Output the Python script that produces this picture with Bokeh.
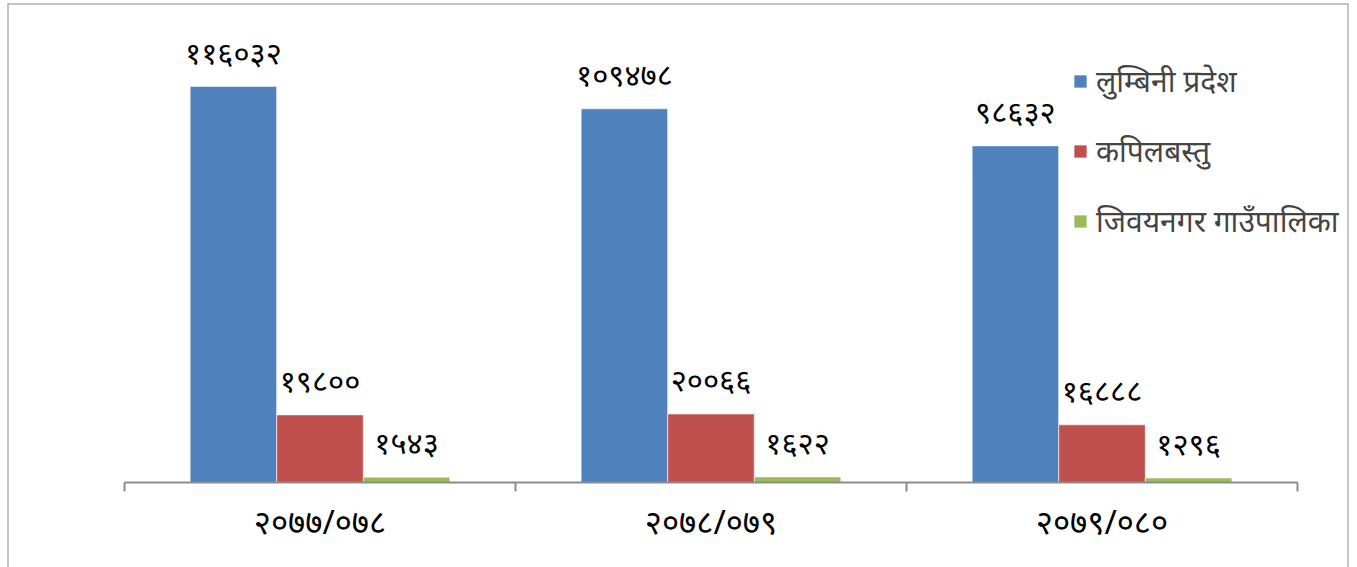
from bokeh.plotting import figure
from bokeh.models import ColumnDataSource, FixedTicker, Legend, LegendItem, Range1d, Span
from bokeh.core.properties import value
from bokeh.embed import file_html
from bokeh.resources import INLINE

categories = ["२०७७/०७८", "२०७८/०७९", "२०७९/०८०"]
series_names = ["लुम्बिनी प्रदेश", "कपिलबस्तु", "जिवयनगर गाउँपालिका"]
lumbini = [116032, 109478, 98632]
kapilbastu = [19800, 20066, 16888]
jivayanagar = [1543, 1622, 1296]
colors = ["#4F81BD", "#C0504D", "#9BBB59"]

DEV = str.maketrans("0123456789", "०१२३४५६७८९")
def dev(n):
    return str(n).translate(DEV)

FONT = "Noto Sans"
XMIN, XMAX = -0.29923, 3.13044
YMIN, YMAX = -24906, 140352
p = figure(width=1357, height=567, output_backend="svg", toolbar_location=None,
           x_range=Range1d(XMIN, XMAX), y_range=Range1d(YMIN, YMAX),
           min_border_left=7, min_border_right=9, min_border_top=3, min_border_bottom=0)
p.xgrid.visible = False
p.ygrid.visible = False
p.yaxis.visible = False
p.outline_line_color = None
p.background_fill_color = "white"

# chart border (top, left, right) at the plot-area edges
for loc, dim in [(YMAX, "width"), (XMIN, "height"), (XMAX, "height")]:
    p.add_layout(Span(location=loc, dimension=dim, line_color="#8c8c8c", line_width=2))

offsets = [-0.2215, 0.0, 0.2215]
bar_w = 0.221
items = []
for vals, name, col, off in zip([lumbini, kapilbastu, jivayanagar], series_names, colors, offsets):
    xs = [i + 0.5 + off for i in range(len(categories))]
    src = ColumnDataSource(dict(x=xs, top=vals, label=[dev(v) for v in vals]))
    r = p.vbar(x="x", top="top", width=bar_w, bottom=0, source=src,
               fill_color=col, line_color="white", line_width=0.5)
    p.text(x="x", y="top", text="label", source=src, text_align="center",
           text_baseline="bottom", y_offset=-14, text_font=value(FONT),
           text_font_size="31px", text_color="black")
    items.append(LegendItem(label=name, renderers=[r]))

ax = p.xaxis[0]
ax.fixed_location = 0
ax.ticker = FixedTicker(ticks=[0.5, 1.5, 2.5], minor_ticks=[0, 1, 2, 3])
ax.major_label_overrides = {0.5: categories[0], 1.5: categories[1], 2.5: categories[2]}
ax.bounds = (0, 3)
ax.major_tick_out = 0
ax.major_tick_in = 0
ax.minor_tick_out = 9
ax.minor_tick_in = 0
ax.minor_tick_line_color = "#8c8c8c"
ax.minor_tick_line_width = 2
ax.axis_line_color = "#8c8c8c"
ax.axis_line_width = 2
ax.major_label_standoff = 8
ax.major_label_text_font = FONT
ax.major_label_text_font_size = "33px"
ax.major_label_text_color = "black"

legend = Legend(items=items, location=(1065, 326), orientation="vertical",
                glyph_width=16, glyph_height=16, label_standoff=8,
                spacing=29, padding=0, margin=0,
                label_text_font=FONT, label_text_font_size="30px",
                border_line_alpha=0, background_fill_alpha=0)
p.add_layout(legend)

open("out.html", "w").write(file_html(p, INLINE))
